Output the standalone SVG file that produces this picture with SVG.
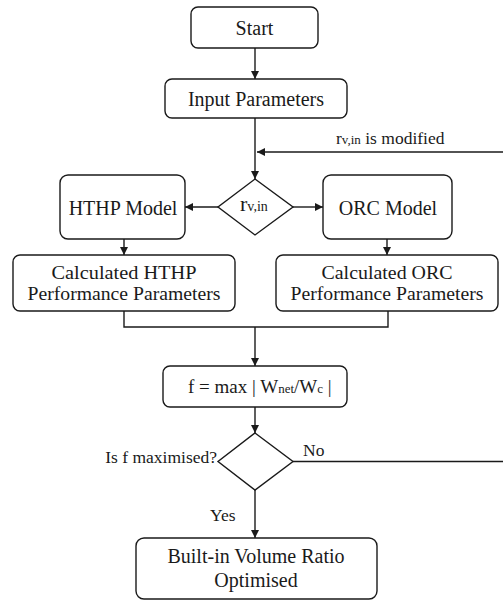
<svg xmlns="http://www.w3.org/2000/svg" width="503" height="601" viewBox="0 0 503 601" font-family="Liberation Serif, serif">
  <defs>
    <marker id="arrow" viewBox="0 0 10 10" refX="10" refY="5" markerWidth="8" markerHeight="8" markerUnits="userSpaceOnUse" orient="auto">
      <path d="M0,0 L10,5 L0,10 Z" fill="#1a1a1a"/>
    </marker>
    <style>
      .box { fill: #ffffff; stroke: #1a1a1a; stroke-width: 1.4; }
      .line { fill: none; stroke: #1a1a1a; stroke-width: 1.4; }
      .arr { marker-end: url(#arrow); }
      text { fill: #1a1a1a; }
      .t20 { font-size: 20px; text-anchor: middle; }
      .t18 { font-size: 18px; text-anchor: middle; }
      .lbl { font-size: 17.5px; }
      .sub { font-size: 13px; }
    </style>
  </defs>

  <rect width="503" height="601" fill="#ffffff"/>

  <!-- connectors and their labels -->
  <g id="connectors">
    <path class="line arr" d="M255,48 V79"/>
    <path class="line arr" d="M255,118 V179"/>
    <path class="line arr" d="M503,152 H257"/>
    <path class="line arr" d="M218,207 H185"/>
    <path class="line arr" d="M293,207 H323"/>
    <path class="line arr" d="M124,239 V255"/>
    <path class="line arr" d="M387,239 V255"/>
    <path class="line" d="M124,311 V327 H388 V311"/>
    <path class="line arr" d="M255,327 V366"/>
    <path class="line arr" d="M255,407 V433"/>
    <path class="line" d="M293,461.5 H503"/>
    <path class="line arr" d="M255,490 V538"/>
    <text class="lbl" x="336" y="144" font-family="Liberation Serif">r<tspan class="sub">v,in</tspan> is modified</text>
    <text class="lbl" x="303" y="456" font-family="Liberation Serif">No</text>
    <text class="lbl" x="210" y="521" font-family="Liberation Serif">Yes</text>
    <text class="lbl" x="217" y="463" text-anchor="end" font-family="Liberation Serif">Is f maximised?</text>
  </g>

  <g id="start">
    <rect class="box" x="191" y="7" width="127" height="41" rx="7"/>
    <text class="t20" x="254.5" y="34.5" font-family="Liberation Serif">Start</text>
  </g>

  <g id="input-parameters">
    <rect class="box" x="165" y="79" width="182" height="39" rx="7"/>
    <text class="t20" x="256" y="105.5" font-family="Liberation Serif">Input Parameters</text>
  </g>

  <g id="rvin-decision">
    <path class="box" d="M255,179 L293,207 L255,235 L218,207 Z"/>
    <text x="240" y="211" font-size="22" font-family="Liberation Serif">r<tspan font-size="14">v,in</tspan></text>
  </g>

  <g id="hthp-model">
    <rect class="box" x="60" y="175" width="125" height="64" rx="8"/>
    <text class="t20" x="123" y="214.5" font-family="Liberation Serif">HTHP Model</text>
  </g>

  <g id="orc-model">
    <rect class="box" x="323" y="175" width="129" height="64" rx="8"/>
    <text class="t20" x="388" y="215" font-family="Liberation Serif">ORC Model</text>
  </g>

  <g id="calc-hthp">
    <rect class="box" x="13" y="255" width="222" height="56" rx="7"/>
    <text class="t18" x="124" y="279" textLength="145" lengthAdjust="spacingAndGlyphs" font-family="Liberation Serif">Calculated HTHP</text>
    <text class="t18" x="124" y="300" textLength="193" lengthAdjust="spacingAndGlyphs" font-family="Liberation Serif">Performance Parameters</text>
  </g>

  <g id="calc-orc">
    <rect class="box" x="276" y="255" width="222" height="56" rx="7"/>
    <text class="t18" x="387" y="279" textLength="131" lengthAdjust="spacingAndGlyphs" font-family="Liberation Serif">Calculated ORC</text>
    <text class="t18" x="387" y="300" textLength="193" lengthAdjust="spacingAndGlyphs" font-family="Liberation Serif">Performance Parameters</text>
  </g>

  <g id="objective">
    <rect class="box" x="163" y="366" width="184" height="41" rx="7"/>
    <text x="188" y="392.5" font-size="19" font-family="Liberation Serif">f = max | W<tspan class="sub">net</tspan>/W<tspan class="sub">c</tspan> |</text>
  </g>

  <g id="maximised-decision">
    <path class="box" d="M255,433 L293,461.5 L255,490 L218,461.5 Z"/>
  </g>

  <g id="optimised">
    <rect class="box" x="136" y="538" width="241" height="61" rx="8"/>
    <text class="t20" x="256" y="563" font-family="Liberation Serif">Built-in Volume Ratio</text>
    <text class="t20" x="256" y="587" font-family="Liberation Serif">Optimised</text>
  </g>
</svg>
